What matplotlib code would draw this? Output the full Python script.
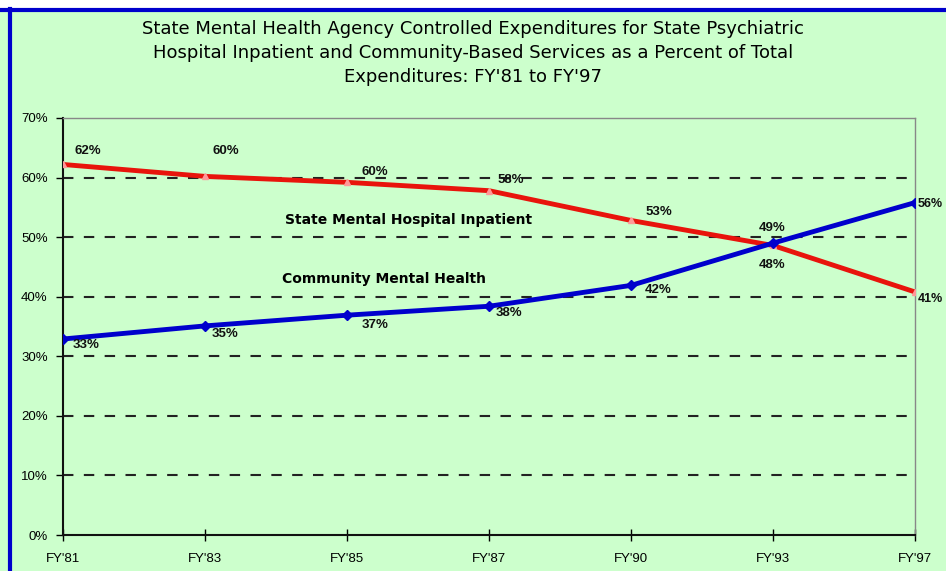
import matplotlib.pyplot as plt
from matplotlib.lines import Line2D

years = ["FY'81", "FY'83", "FY'85", "FY'87", "FY'90", "FY'93", "FY'97"]
inpatient = [62.2, 60.2, 59.2, 57.8, 52.8, 48.6, 40.8]
community = [32.9, 35.1, 36.9, 38.4, 41.9, 49.0, 55.8]
inpatient_labels = ["62%", "60%", "60%", "58%", "53%", "48%", "41%"]
community_labels = ["33%", "35%", "37%", "38%", "42%", "49%", "56%"]

bg = "#ccffcc"
plt.rcParams['font.family'] = ['Liberation Sans', 'DejaVu Sans']

fig = plt.figure(figsize=(9.46, 5.71), dpi=100)
fig.patch.set_facecolor(bg)
# white strip and blue frame at top/left (the picture is cropped)
fig.patches.append(plt.Rectangle((0, 1 - 8/571), 1, 8/571, transform=fig.transFigure,
                                 facecolor="white", edgecolor="none"))
fig.lines.append(Line2D([0, 1], [1 - 10/571, 1 - 10/571], transform=fig.transFigure,
                        color="#0000cc", lw=3))
fig.lines.append(Line2D([10/946, 10/946], [0, 1 - 9/571], transform=fig.transFigure,
                        color="#0000cc", lw=3))

ax = fig.add_axes([63/946, 1 - 535/571, (915 - 63)/946, (535 - 118)/571])
ax.set_facecolor(bg)

x = list(range(len(years)))
ax.plot(x, inpatient, color="#e8140c", lw=3.5, marker="^", ms=5,
        mfc="#ff9999", mec="#ff9999", zorder=3)
ax.plot(x, community, color="#0000cc", lw=3.5, marker="D", ms=5,
        mfc="#0000cc", mec="#0000cc", zorder=4)

ax.set_xlim(0, len(years) - 1)
ax.set_ylim(0, 70)
ax.set_yticks(range(0, 80, 10))
ax.set_yticklabels([f"{v}%" for v in range(0, 80, 10)])
ax.set_xticks(x)
ax.set_xticklabels(years)
ax.tick_params(axis="y", direction="out", length=5, width=1, labelsize=9.5, pad=6)
ax.tick_params(axis="x", direction="inout", length=8, width=1, labelsize=9.5, pad=9)

for v in range(10, 70, 10):
    ax.axhline(v, color="#222222", lw=1.5, ls=(0, (5, 5)), zorder=1)

for s in ["left", "bottom"]:
    ax.spines[s].set_color("#111111")
    ax.spines[s].set_linewidth(1.5)
for s in ["top", "right"]:
    ax.spines[s].set_color("#888888")
    ax.spines[s].set_linewidth(1)

lab = dict(fontweight="bold", color="#111111", zorder=5)
in_off = [(0.08, 2.3), (0.05, 4.3), (0.1, 1.7), (0.06, 1.8), (0.1, 1.5), (-0.1, -3.3), (0.02, -1.2)]
for i, (v, t) in enumerate(zip(inpatient, inpatient_labels)):
    dx, dy = in_off[i]
    fs = 9 if i == len(years) - 1 else 9.5
    ax.text(i + dx, v + dy, t, ha="left", va="center", clip_on=False, fontsize=fs, **lab)
co_off = [(0.07, -1.0), (0.05, -1.3), (0.1, -1.6), (0.05, -1.2), (0.1, -0.8), (-0.1, 2.5), (0.02, -0.3)]
for i, (v, t) in enumerate(zip(community, community_labels)):
    dx, dy = co_off[i]
    fs = 9 if i == len(years) - 1 else 9.5
    ax.text(i + dx, v + dy, t, ha="left", va="center", clip_on=False, fontsize=fs, **lab)

ax.text(1.56, 52.9, "State Mental Hospital Inpatient", fontsize=10, fontweight="bold",
        family=["DejaVu Sans"], ha="left", va="center")
ax.text(1.54, 42.9, "Community Mental Health", fontsize=10, fontweight="bold",
        family=["DejaVu Sans"], ha="left", va="center")

fig.text(0.5, 1 - 53/571,
         "State Mental Health Agency Controlled Expenditures for State Psychiatric\n"
         "Hospital Inpatient and Community-Based Services as a Percent of Total\n"
         "Expenditures: FY'81 to FY'97",
         ha="center", va="center", fontsize=13, family=["DejaVu Sans"], linespacing=1.45)

fig.savefig("out.png", dpi=100, facecolor=bg)
